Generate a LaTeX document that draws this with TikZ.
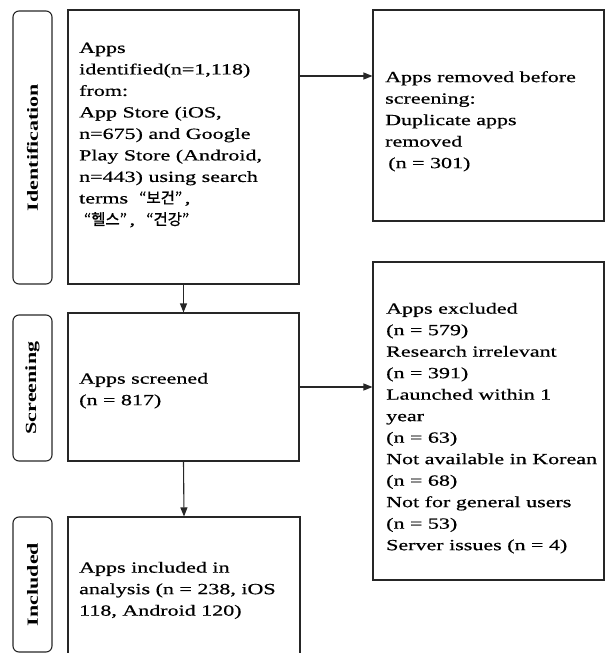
\documentclass[tikz,border=0pt]{standalone}
\usepackage{fontspec}
\setmainfont[FakeStretch=1.42,FakeBold=0.6,BoldFeatures={FakeBold=0}]{Liberation Serif}
\newfontfamily\kr[FakeBold=0.8]{Noto Sans CJK KR}
\usetikzlibrary{arrows.meta}
\tikzset{
  box/.style={draw=black!85, line width=1.1pt, rectangle, inner sep=0pt},
  side/.style={draw=black!85, line width=1.1pt, rectangle, rounded corners=6pt, inner sep=0pt},
  sidetext/.style={rotate=90, font=\fontsize{15.5}{21.5}\selectfont\bfseries, inner sep=0pt},
  txt/.style={anchor=north west, align=left, inner sep=0pt, font=\fontsize{15.5}{21.5}\selectfont},
  arr/.style={draw=black!85, line width=1.1pt, -{Triangle[length=9pt,width=7pt]}}
}
\begin{document}
\begin{tikzpicture}[x=1pt,y=1pt]
\useasboundingbox (0,0) rectangle (606,-653);
% side labels
\node[side, minimum width=39pt, minimum height=273pt] (sl1) at (32.5,-147.5) {};
\node[sidetext] (st1) at (sl1.center) {Identification};
\node[side, minimum width=39pt, minimum height=146pt] (sl2) at (32.5,-388) {};
\node[sidetext] (st2) at (sl2.center) {Screening};
\node[side, minimum width=39pt, minimum height=135pt] (sl3) at (32.5,-584.5) {};
\node[sidetext] (st3) at (sl3.center) {Included};
% boxes
\node[box, minimum width=231pt, minimum height=274pt] (b1) at (183.5,-147) {};
\node[box, minimum width=231pt, minimum height=211pt] (b2) at (488.5,-115.5) {};
\node[box, minimum width=231pt, minimum height=148pt] (sc) at (183.5,-387) {};
\node[box, minimum width=231pt, minimum height=318pt] (b3) at (488.5,-421) {};
\node[box, minimum width=232pt, minimum height=146pt] (inc) at (184,-590) {};
% texts
\node[txt] (t1) at (79,-42.5) {Apps\\identified(n=1,118)\\from:\\App Store (iOS,\\n=675) and Google\\Play Store (Android,\\n=443) using search\\terms\ \ {\kr“보건”}\,,\\\hspace{0.3em}{\kr“헬스”}\,,\ \ {\kr“건강”}};
\node[txt] (t2) at (385,-71) {Apps removed before\\screening:\\Duplicate apps\\removed\\\hspace{0.2em}(n = 301)};
\node[txt] (t3) at (79,-372.7) {Apps screened\\(n = 817)};
\node[txt] (t4) at (386,-302.7) {Apps excluded\\(n = 579)\\Research irrelevant\\(n = 391)\\Launched within 1\\year\\(n = 63)\\Not available in Korean\\(n = 68)\\Not for general users\\(n = 53)\\Server issues (n = 4)};
\node[txt] (t5) at (79,-561.7) {Apps included in\\analysis (n = 238, iOS\\118, Android 120)};
% connectors
\draw[arr] ([yshift=71pt]b1.east) -- ([yshift=71pt]b1.east -| b2.west);
\draw[arr] (b1.south) -- (sc.north);
\draw[arr] (sc.east) -- (sc.east -| b3.west);
\draw[arr] (sc.south) -- (inc.north);
\end{tikzpicture}
\end{document}
